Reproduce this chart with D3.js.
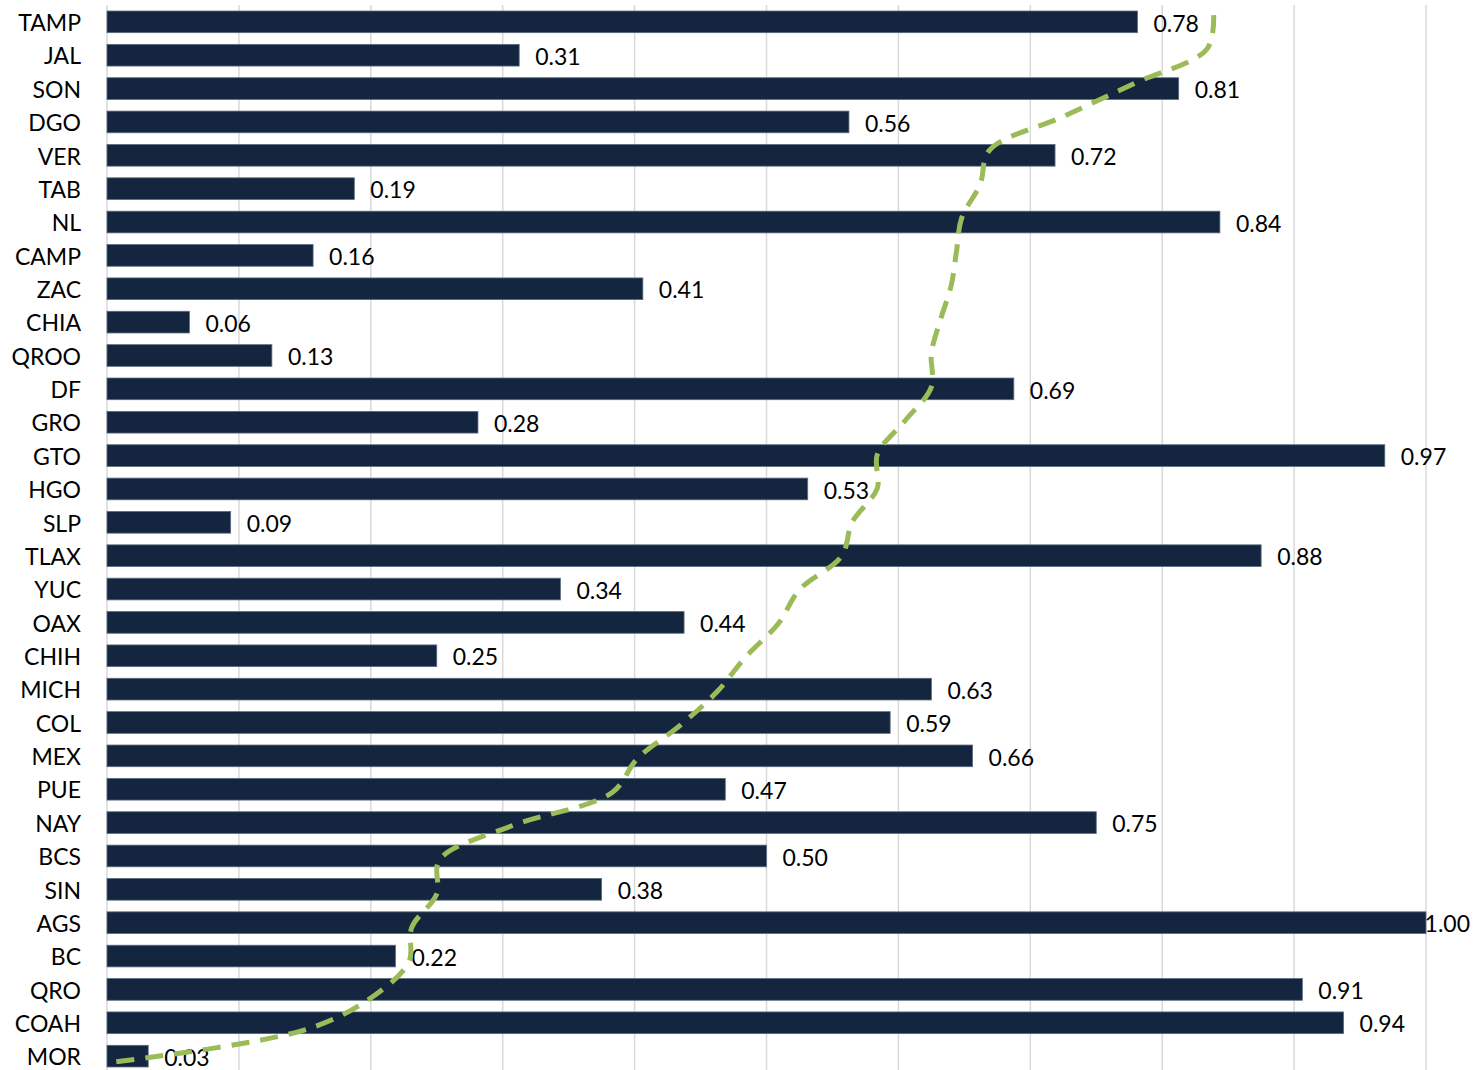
<!DOCTYPE html>
<html>
<head>
<meta charset="utf-8">
<script src="https://cdn.jsdelivr.net/npm/d3@7"></script>
<style>
  body { margin: 0; background: #fff; }
  text { font-family: Lato, "Open Sans", sans-serif; }
</style>
</head>
<body>
<div id="chart"></div>
<script>
// categories top to bottom
var states = ["TAMP","JAL","SON","DGO","VER","TAB","NL","CAMP","ZAC","CHIA","QROO","DF","GRO","GTO","HGO","SLP",
              "TLAX","YUC","OAX","CHIH","MICH","COL","MEX","PUE","NAY","BCS","SIN","AGS","BC","QRO","COAH","MOR"];
// bar values (labels show them rounded to 2 decimals)
var barValues = [0.78125,0.3125,0.8125,0.5625,0.71875,0.1875,0.84375,0.15625,0.40625,0.0625,0.125,0.6875,0.28125,0.96875,0.53125,0.09375,
                 0.875,0.34375,0.4375,0.25,0.625,0.59375,0.65625,0.46875,0.75,0.5,0.375,1.0,0.21875,0.90625,0.9375,0.03125];
// dashed line values
var lineValues = [0.839,0.834,0.780,0.725,0.669,0.662,0.648,0.644,0.640,0.632,0.625,0.625,0.605,0.584,0.584,0.565,
                  0.557,0.525,0.509,0.484,0.463,0.435,0.402,0.383,0.306,0.252,0.250,0.231,0.229,0.203,0.152,0.0];
var gridTicks = [0.1,0.2,0.3,0.4,0.5,0.6,0.7,0.8,0.9,1.0];

var margin = {top: 5, right: 50, bottom: -3, left: 107},
    W = 1476, H = 1070,
    width = 1319,
    height = H - margin.top - margin.bottom;

var data = states.map(function(s, i) { return {state: s, v: barValues[i], l: lineValues[i]}; });

var svg = d3.select("#chart").append("svg")
    .attr("width", W).attr("height", H);
var g = svg.append("g")
    .attr("transform", "translate(" + margin.left + "," + margin.top + ")");

var x = d3.scaleLinear().domain([0, 1]).range([0, width]);
var y = d3.scaleBand().domain(states).range([0, height]).paddingInner(0.35).paddingOuter(0.18);
var yl = d3.scalePoint().domain(states).range([0, height]).padding(0.3);

// gridlines
g.selectAll("line.grid")
  .data(gridTicks)
  .enter().append("line")
    .attr("class", "grid")
    .attr("x1", function(d) { return x(d); })
    .attr("x2", function(d) { return x(d); })
    .attr("y1", 0).attr("y2", height)
    .attr("stroke", "#d9d9d9")
    .attr("stroke-width", 1.5);

// left axis line
g.append("line")
  .attr("x1", x(0)).attr("x2", x(0))
  .attr("y1", 0).attr("y2", height)
  .attr("stroke", "#d9d9d9").attr("stroke-width", 1.5);

// bars
g.selectAll("rect.bar")
  .data(data)
  .enter().append("rect")
    .attr("class", "bar")
    .attr("x", x(0))
    .attr("y", function(d) { return y(d.state); })
    .attr("width", function(d) { return x(d.v) - x(0); })
    .attr("height", y.bandwidth())
    .attr("fill", "#13253f")
    .attr("stroke", "#5d6c80")
    .attr("stroke-width", 0.8);

// category labels
var yAxis = g.append("g")
  .attr("transform", "translate(-26,0)")
  .call(d3.axisLeft(y).tickSize(0).tickPadding(0));
yAxis.select(".domain").remove();
yAxis.selectAll("text")
  .attr("font-family", "Lato, 'Open Sans', sans-serif")
  .attr("font-size", "23px")
  .attr("dy", "0.4em")
  .attr("fill", "#000");

// value labels
var vl = g.selectAll("text.val")
  .data(data)
  .enter().append("text")
    .attr("class", "val")
    .attr("y", function(d) { return y(d.state) + y.bandwidth() / 2; })
    .attr("dy", "0.42em")
    .attr("font-size", "23px")
    .attr("fill", "#000")
    .text(function(d) { return d.v.toFixed(2); });
vl.attr("x", function(d) {
    var tw = this.getComputedTextLength();
    return Math.min(x(d.v) + 16, W - margin.left - 6 - tw);
  });

// dashed line
var line = d3.line()
  .x(function(d) { return x(d.l); })
  .y(function(d) { return yl(d.state); })
  .curve(d3.curveCatmullRom.alpha(0.5));

g.append("path")
  .datum(data)
  .attr("d", line)
  .attr("fill", "none")
  .attr("stroke", "#9bbb59")
  .attr("stroke-width", 5)
  .attr("stroke-dasharray", "18,11");
</script>
</body>
</html>
